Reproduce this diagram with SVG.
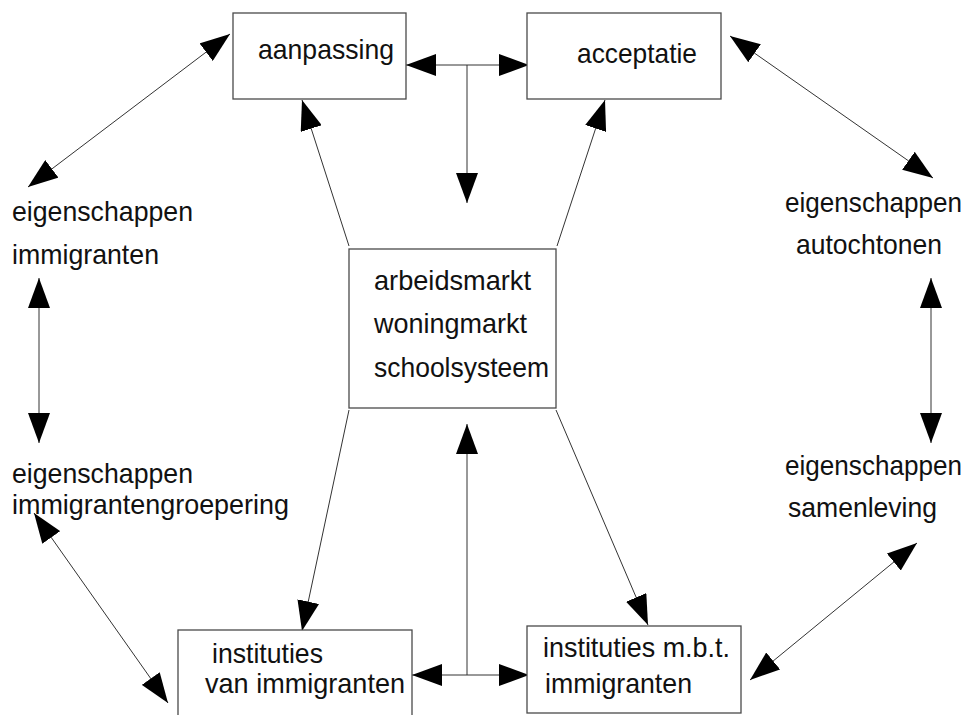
<svg xmlns="http://www.w3.org/2000/svg" width="975" height="715" viewBox="0 0 975 715">
  <style>
    .box { fill: #ffffff; stroke: #4a4a4a; stroke-width: 1.3; }
    .lbl { font-family: "Liberation Sans", Arial, sans-serif; font-size: 28px; fill: #111111; }
    .con { fill: none; stroke: #333333; stroke-width: 1; }
  </style>
  <defs>
    <marker id="head" viewBox="0 -11 30 22" refX="30" refY="0" markerWidth="30" markerHeight="22" markerUnits="userSpaceOnUse" orient="auto-start-reverse">
      <path d="M0,-11 L30,0 L0,11 z" fill="#000000"/>
    </marker>
  </defs>
  <rect width="975" height="715" fill="#ffffff"/>

  <!-- connectors -->
  <g id="connectors">
    <!-- top: aanpassing <-> acceptatie with branch down to the centre -->
    <line class="con" x1="406" y1="65" x2="529" y2="65" marker-start="url(#head)" marker-end="url(#head)"/>
    <line class="con" x1="467" y1="65" x2="467" y2="203" marker-end="url(#head)"/>
    <!-- bottom: instituties <-> instituties with branch up to the centre -->
    <line class="con" x1="412" y1="675" x2="529" y2="675" marker-start="url(#head)" marker-end="url(#head)"/>
    <line class="con" x1="467" y1="675" x2="467" y2="424" marker-end="url(#head)"/>
    <!-- centre box corners to the four boxes -->
    <line class="con" x1="349" y1="246" x2="302" y2="100" marker-end="url(#head)"/>
    <line class="con" x1="557" y1="246" x2="605" y2="100" marker-end="url(#head)"/>
    <line class="con" x1="349" y1="410" x2="302" y2="631" marker-end="url(#head)"/>
    <line class="con" x1="556" y1="410" x2="648" y2="625" marker-end="url(#head)"/>
    <!-- outer ring -->
    <line class="con" x1="230" y1="34" x2="28" y2="187" marker-start="url(#head)" marker-end="url(#head)"/>
    <line class="con" x1="39" y1="278" x2="39" y2="443" marker-start="url(#head)" marker-end="url(#head)"/>
    <line class="con" x1="34" y1="513" x2="168" y2="703" marker-start="url(#head)" marker-end="url(#head)"/>
    <line class="con" x1="730" y1="36" x2="933" y2="178" marker-start="url(#head)" marker-end="url(#head)"/>
    <line class="con" x1="931" y1="278" x2="931" y2="443" marker-start="url(#head)" marker-end="url(#head)"/>
    <line class="con" x1="917" y1="543" x2="750" y2="680" marker-start="url(#head)" marker-end="url(#head)"/>
  </g>

  <g id="aanpassing">
    <rect class="box" x="233" y="13" width="173" height="86"/>
    <text class="lbl" x="258" y="59" textLength="136" lengthAdjust="spacingAndGlyphs">aanpassing</text>
  </g>

  <g id="acceptatie">
    <rect class="box" x="527" y="13" width="194" height="86"/>
    <text class="lbl" x="577" y="63" textLength="120" lengthAdjust="spacingAndGlyphs">acceptatie</text>
  </g>

  <g id="markten">
    <rect class="box" x="349" y="249" width="207" height="159"/>
    <text class="lbl" x="374" y="290" textLength="157" lengthAdjust="spacingAndGlyphs">arbeidsmarkt</text>
    <text class="lbl" x="374" y="333" textLength="153" lengthAdjust="spacingAndGlyphs">woningmarkt</text>
    <text class="lbl" x="374" y="377" textLength="175" lengthAdjust="spacingAndGlyphs">schoolsysteem</text>
  </g>

  <g id="instituties-van-immigranten">
    <rect class="box" x="178" y="630" width="234" height="92"/>
    <text class="lbl" x="212" y="663" textLength="111" lengthAdjust="spacingAndGlyphs">instituties</text>
    <text class="lbl" x="205" y="693" textLength="200" lengthAdjust="spacingAndGlyphs">van immigranten</text>
  </g>

  <g id="instituties-mbt-immigranten">
    <rect class="box" x="527" y="626" width="214" height="87"/>
    <text class="lbl" x="543" y="657" textLength="187" lengthAdjust="spacingAndGlyphs">instituties m.b.t.</text>
    <text class="lbl" x="545" y="693" textLength="147" lengthAdjust="spacingAndGlyphs">immigranten</text>
  </g>

  <g id="eigenschappen-immigranten">
    <text class="lbl" x="12" y="221" textLength="181" lengthAdjust="spacingAndGlyphs">eigenschappen</text>
    <text class="lbl" x="12" y="264" textLength="147" lengthAdjust="spacingAndGlyphs">immigranten</text>
  </g>

  <g id="eigenschappen-immigrantengroepering">
    <text class="lbl" x="12" y="483" textLength="181" lengthAdjust="spacingAndGlyphs">eigenschappen</text>
    <text class="lbl" x="12" y="514" textLength="277" lengthAdjust="spacingAndGlyphs">immigrantengroepering</text>
  </g>

  <g id="eigenschappen-autochtonen">
    <text class="lbl" x="785" y="212" textLength="177" lengthAdjust="spacingAndGlyphs">eigenschappen</text>
    <text class="lbl" x="796" y="254" textLength="146" lengthAdjust="spacingAndGlyphs">autochtonen</text>
  </g>

  <g id="eigenschappen-samenleving">
    <text class="lbl" x="785" y="475" textLength="177" lengthAdjust="spacingAndGlyphs">eigenschappen</text>
    <text class="lbl" x="788" y="517" textLength="149" lengthAdjust="spacingAndGlyphs">samenleving</text>
  </g>
</svg>
